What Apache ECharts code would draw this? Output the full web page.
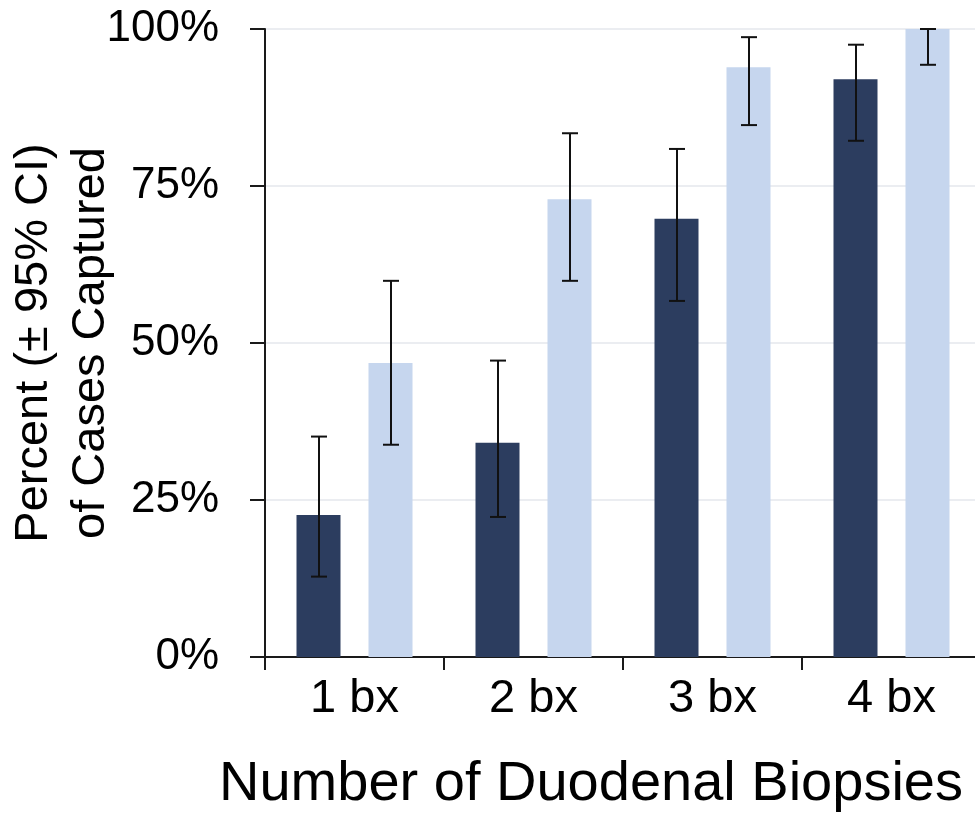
<!DOCTYPE html>
<html>
<head>
<meta charset="utf-8">
<script src="https://cdn.jsdelivr.net/npm/echarts@6/dist/echarts.min.js"></script>
<style>
  html, body { margin: 0; padding: 0; background: #ffffff; }
  #chart { width: 975px; height: 815px; }
</style>
</head>
<body>
<div id="chart"></div>
<script>
// Share of cases captured by number of duodenal biopsies, with 95% CI
const categories = ['1 bx', '2 bx', '3 bx', '4 bx'];

const darkValues = [22.6, 34.1, 69.8, 92.0];
const darkLow    = [12.8, 22.3, 56.7, 82.2];
const darkHigh   = [35.1, 47.2, 80.9, 97.5];

const lightValues = [46.8, 72.9, 93.9, 100];
const lightLow    = [33.8, 59.9, 84.7, 94.3];
const lightHigh   = [59.9, 83.4, 98.7, 100];

const yTicks = [0, 25, 50, 75, 100];

const FONT = '"Liberation Sans", Arial, Helvetica, sans-serif';
const BAR_W = 44;
const BAR_GAP = 28;
const SHIFT = (BAR_W + BAR_GAP) / 2;

function errorBarSeries(name, low, high, dx) {
  return {
    name: name,
    type: 'custom',
    z: 10,
    silent: true,
    data: categories.map((c, i) => [i, low[i], high[i]]),
    renderItem: function (params, api) {
      const pLo = api.coord([api.value(0), api.value(1)]);
      const pHi = api.coord([api.value(0), api.value(2)]);
      const x = Math.round(pLo[0] + dx);
      const cap = 8;
      const style = { stroke: '#111111', lineWidth: 2 };
      return {
        type: 'group',
        children: [
          { type: 'line', shape: { x1: x, y1: pLo[1], x2: x, y2: pHi[1] }, style: style },
          { type: 'line', shape: { x1: x - cap, y1: pHi[1], x2: x + cap, y2: pHi[1] }, style: style },
          { type: 'line', shape: { x1: x - cap, y1: pLo[1], x2: x + cap, y2: pLo[1] }, style: style }
        ]
      };
    }
  };
}

const chart = echarts.init(document.getElementById('chart'), null, { renderer: 'canvas' });

chart.setOption({
  animation: false,
  backgroundColor: '#ffffff',
  textStyle: { fontFamily: FONT },
  grid: { left: 265, right: -6, top: 29, bottom: 158, containLabel: false, outerBoundsMode: 'none' },
  xAxis: {
    type: 'category',
    data: categories,
    name: 'Number of Duodenal Biopsies',
    nameLocation: 'middle',
    nameGap: 100,
    nameMoveOverlap: false,
    nameTextStyle: { fontSize: 56, color: '#000000', fontFamily: FONT, padding: [0, 64, 0, 0] },
    axisLine: { show: true, lineStyle: { color: '#1a1a1a', width: 2 } },
    axisTick: { show: true, length: 13, lineStyle: { color: '#1a1a1a', width: 2 } },
    axisLabel: { fontSize: 47, color: '#000000', margin: 19, fontFamily: FONT },
    splitLine: { show: false }
  },
  yAxis: {
    type: 'value',
    min: yTicks[0],
    max: yTicks[yTicks.length - 1],
    interval: 25,
    name: 'Percent (± 95% CI)\nof Cases Captured',
    nameLocation: 'middle',
    nameRotate: 90,
    nameGap: 145,
    nameMoveOverlap: false,
    nameTextStyle: { fontSize: 47, lineHeight: 57, color: '#000000', fontFamily: FONT, align: 'center' },
    axisLine: { show: true, lineStyle: { color: '#1a1a1a', width: 2 } },
    axisTick: { show: true, length: 15, lineStyle: { color: '#1a1a1a', width: 2 } },
    axisLabel: { fontSize: 44, color: '#000000', margin: 46, fontFamily: FONT, formatter: '{value}%' },
    splitLine: { show: true, lineStyle: { color: '#e4e7ed', width: 1.5 } }
  },
  series: [
    {
      name: 'Cohort A',
      type: 'bar',
      data: darkValues,
      barWidth: BAR_W,
      barGap: (BAR_GAP / BAR_W * 100) + '%',
      itemStyle: { color: '#2c3d5f' }
    },
    {
      name: 'Cohort B',
      type: 'bar',
      data: lightValues,
      barWidth: BAR_W,
      barGap: (BAR_GAP / BAR_W * 100) + '%',
      itemStyle: { color: '#c6d6ee' }
    },
    errorBarSeries('Cohort A CI', darkLow, darkHigh, -SHIFT),
    errorBarSeries('Cohort B CI', lightLow, lightHigh, SHIFT)
  ]
});
</script>
</body>
</html>
